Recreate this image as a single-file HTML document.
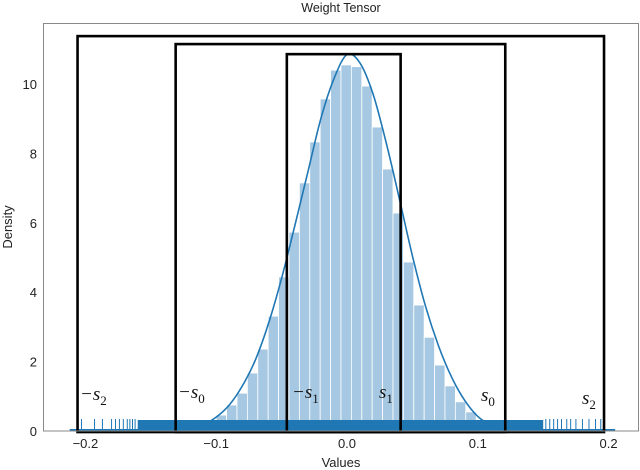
<!DOCTYPE html>
<html><head><meta charset="utf-8"><style>
body{margin:0;background:#fff;}
svg{display:block;font-family:"Liberation Sans","DejaVu Sans",sans-serif;}
</style></head><body>
<svg id="chart" width="640" height="470" viewBox="0 0 640 470">
<g id="bars"></g>
<g id="rug"></g>
<path id="kde" fill="none" stroke="#1f77b4" stroke-width="1.6"/>
<g id="boxes"></g>
<rect x="43.5" y="23.5" width="595" height="407.5" fill="none" stroke="#888" stroke-width="1"/>
<g id="xticks" font-size="13" fill="#222" text-anchor="middle"></g>
<g id="yticks" font-size="13" fill="#222" text-anchor="end"></g>
<text x="341" y="12" font-size="12.5" fill="#222" text-anchor="middle">Weight Tensor</text>
<text x="341" y="467" font-size="13" fill="#222" text-anchor="middle">Values</text>
<text transform="translate(12,227) rotate(-90)" font-size="13" fill="#222" text-anchor="middle">Density</text>
<g font-family="'Liberation Serif','DejaVu Serif',serif" font-style="italic" font-size="19" fill="#111">
<text x="80" y="400">−s<tspan font-size="13" dy="5" font-style="normal">2</tspan></text>
<text x="178" y="398">−s<tspan font-size="13" dy="5" font-style="normal">0</tspan></text>
<text x="292" y="398">−s<tspan font-size="13" dy="5" font-style="normal">1</tspan></text>
<text x="379" y="398">s<tspan font-size="13" dy="5" font-style="normal">1</tspan></text>
<text x="481" y="401">s<tspan font-size="13" dy="5" font-style="normal">0</tspan></text>
<text x="582" y="404">s<tspan font-size="13" dy="5" font-style="normal">2</tspan></text>
</g>
</svg>
<script>
const binStart = -0.1;
const binWidth = 0.00795;
const binHeights = [0.46,0.75,1.09,1.67,2.36,3.31,4.44,5.73,7.15,8.33,9.57,10.4,10.55,10.5,9.94,8.76,7.55,6.28,4.87,3.63,2.7,1.9,1.3,0.84,0.55,0.3,0.15];
const binStartLeft = [0.25,0.12];
const kdeX = [-0.12,-0.11,-0.10,-0.09,-0.08,-0.07,-0.06,-0.05,-0.04,-0.03,-0.02,-0.01,0,0.01,0.02,0.03,0.04,0.05,0.06,0.07,0.08,0.09,0.10,0.11,0.12];
const kdeY = [0.06,0.18,0.4,0.75,1.3,2.05,3.1,4.4,5.9,7.45,9.0,10.15,10.85,10.6,9.7,8.3,6.7,5.05,3.6,2.45,1.55,0.88,0.42,0.17,0.05];
const boxNames = ['s2','s0','s1'];
const boxLeft = [-0.206,-0.131,-0.046];
const boxRight = [0.1965,0.121,0.041];
const boxTop = [11.38,11.15,10.86];
const rugSparse = [-0.203,-0.193,-0.187,-0.18,-0.177,-0.174,-0.171,-0.168,-0.166,-0.164,-0.162,0.152,0.155,0.158,0.161,0.164,0.168,0.171,0.175,0.18,0.185,0.19,0.194];
const rugDense = [-0.16,0.15];
const xTicks = [-0.2,-0.1,0.0,0.1,0.2];
const xTickLabels = ['−0.2','−0.1','0.0','0.1','0.2'];
const yTicks = [0,2,4,6,8,10];

const NS='http://www.w3.org/2000/svg';
const X = v => 347 + 1308*v;
const Y = d => 431 - 34.7*d;
function mk(tag, attrs, parent){const e=document.createElementNS(NS,tag);for(const k in attrs)e.setAttribute(k,attrs[k]);parent.appendChild(e);return e;}

const bars=document.getElementById('bars');
binHeights.forEach((h,i)=>{
  const x0=X(binStart+i*binWidth), x1=X(binStart+(i+1)*binWidth);
  const r=mk('rect',{x:x0,y:Y(h),width:x1-x0,height:Y(0)-Y(h),fill:'#a6c8e2',stroke:'#fff','stroke-width':0.8},bars);
  
  
});
binStartLeft.forEach((h,i)=>{
  const x0=X(binStart-(i+1)*binWidth), x1=X(binStart-i*binWidth);
  const r=mk('rect',{x:x0,y:Y(h),width:x1-x0,height:Y(0)-Y(h),fill:'#a6c8e2',stroke:'#fff','stroke-width':0.8},bars);
  
  
});

const rug=document.getElementById('rug');
const band=mk('rect',{x:X(rugDense[0]),y:420,width:X(rugDense[1])-X(rugDense[0]),height:11,fill:'#1f77b4'},rug);


rugSparse.forEach(v=>{
  const l=mk('line',{x1:X(v),x2:X(v),y1:419,y2:431,stroke:'#1f77b4','stroke-width':1},rug);
  
  
});
mk('line',{x1:X(-0.212),x2:X(0.205),y1:430,y2:430,stroke:'#1f77b4','stroke-width':2},rug);

const pts=kdeX.map((v,i)=>[X(v),Y(kdeY[i])]);
let d='M'+pts[0][0]+','+pts[0][1];
for(let i=0;i<pts.length-1;i++){
  const p0=pts[Math.max(0,i-1)],p1=pts[i],p2=pts[i+1],p3=pts[Math.min(pts.length-1,i+2)];
  const c1=[p1[0]+(p2[0]-p0[0])/6,p1[1]+(p2[1]-p0[1])/6];
  const c2=[p2[0]-(p3[0]-p1[0])/6,p2[1]-(p3[1]-p1[1])/6];
  d+=' C'+c1+' '+c2+' '+p2;
}
document.getElementById('kde').setAttribute('d',d);

const boxes=document.getElementById('boxes');
boxNames.forEach((n,i)=>{
  const r=mk('rect',{x:X(boxLeft[i]),y:Y(boxTop[i]),width:X(boxRight[i])-X(boxLeft[i]),height:Y(-0.03)-Y(boxTop[i]),fill:'none',stroke:'#000','stroke-width':2.6},boxes);
  
  
});

const xt=document.getElementById('xticks');
xTicks.forEach((v,i)=>{
  const t=mk('text',{x:X(v),y:448},xt);t.textContent=xTickLabels[i];
  
  
});
const yt=document.getElementById('yticks');
yTicks.forEach(v=>{
  const t=mk('text',{x:37,y:Y(v)+5},yt);t.textContent=v;
  
  
});
</script>
</body></html>
